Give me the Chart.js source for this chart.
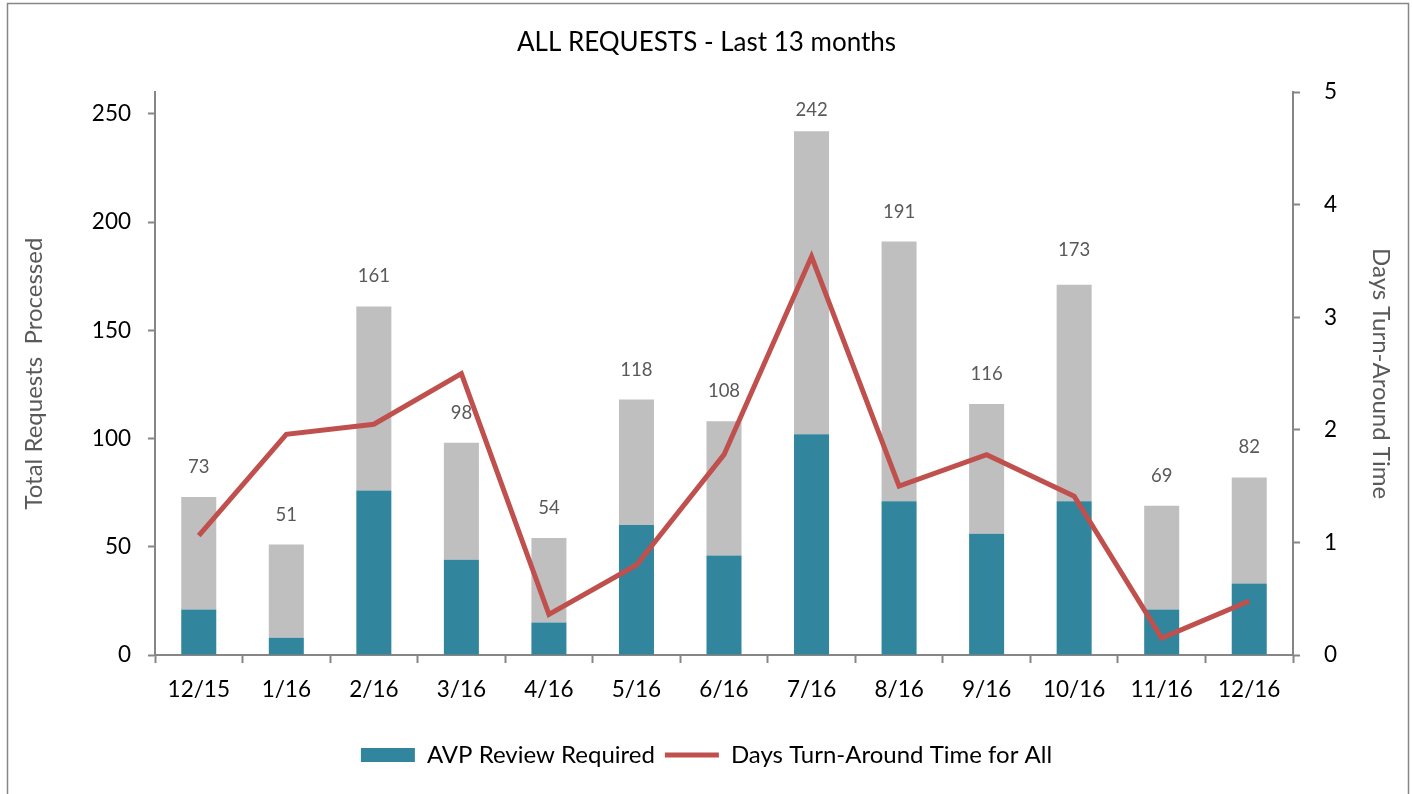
<!DOCTYPE html>
<html>
<head>
<meta charset="utf-8">
<title>ALL REQUESTS - Last 13 months</title>
<script src="https://cdn.jsdelivr.net/npm/chart.js@4.4.1/dist/chart.umd.min.js"></script>
<style>
    html, body { margin: 0; padding: 0; background: #fff; }
    #wrap { position: relative; width: 1413px; height: 794px; }
</style>
</head>
<body>
<div id="wrap"><canvas id="chart" width="1413" height="794"></canvas></div>
<script>
// Dữ liệu biểu đồ
const months = ['12/15', '1/16', '2/16', '3/16', '4/16', '5/16', '6/16', '7/16', '8/16', '9/16', '10/16', '11/16', '12/16'];
const avpReview = [21, 8, 76, 44, 15, 60, 46, 102, 71, 56, 71, 21, 33];
const otherRequests = [52, 43, 85, 54, 39, 58, 62, 140, 120, 60, 100, 48, 49];
const totalLabels = [73, 51, 161, 98, 54, 118, 108, 242, 191, 116, 173, 69, 82];
const turnAround = [1.06, 1.96, 2.05, 2.50, 0.36, 0.80, 1.78, 3.54, 1.50, 1.78, 1.41, 0.15, 0.48];
const leftTicks = [0, 50, 100, 150, 200, 250];
const rightTicks = [0, 1, 2, 3, 4, 5];

const FONT = "Lato, 'Open Sans', sans-serif";
const AXIS_GRAY = '#868686';

// Khung ngoài của biểu đồ
const framePlugin = {
    id: 'frame',
    beforeDraw(chart) {
        const c = chart.ctx;
        c.save();
        c.strokeStyle = AXIS_GRAY;
        c.lineWidth = 1.5;
        c.strokeRect(7.5, 3.5, 1401, 800);
        c.restore();
    }
};

// Nhãn tổng trên mỗi cột
const totalsPlugin = {
    id: 'totals',
    afterDatasetsDraw(chart) {
        const c = chart.ctx;
        const meta = chart.getDatasetMeta(1);
        const yScale = chart.scales.y;
        c.save();
        c.font = '18.5px ' + FONT;
        c.fillStyle = '#595959';
        c.textAlign = 'center';
        c.textBaseline = 'middle';
        meta.data.forEach((bar, i) => {
            let y = yScale.getPixelForValue(totalLabels[i]) - 30;
            y = Math.max(y, chart.chartArea.top + 18);
            c.fillText(totalLabels[i], bar.x, y);
        });
        c.restore();
    }
};

const ctx = document.getElementById('chart').getContext('2d');
const chart = new Chart(ctx, {
    type: 'bar',
    data: {
        labels: months,
        datasets: [{
            label: 'AVP Review Required',
            data: avpReview,
            backgroundColor: '#31859C',
            borderColor: '#31859C',
            borderWidth: 0,
            pointStyle: 'rect',
            stack: 'req',
            order: 1
        }, {
            label: 'Total',
            data: otherRequests,
            backgroundColor: '#BFBFBF',
            borderColor: '#BFBFBF',
            borderWidth: 0,
            stack: 'req',
            order: 1
        }, {
            type: 'line',
            label: 'Days Turn-Around Time for All',
            data: turnAround,
            yAxisID: 'y1',
            borderColor: '#C0504D',
            backgroundColor: '#C0504D',
            borderWidth: 5,
            pointRadius: 0,
            pointStyle: 'line',
            tension: 0,
            order: 0
        }]
    },
    options: {
        responsive: false,
        animation: false,
        layout: { padding: { left: 0, right: 0, top: 0, bottom: 17 } },
        datasets: {
            bar: { categoryPercentage: 1, barPercentage: 0.4 }
        },
        plugins: {
            tooltip: { enabled: false },
            title: {
                display: true,
                text: 'ALL REQUESTS - Last 13 months',
                color: '#000',
                font: { family: FONT, size: 26, weight: 'normal', lineHeight: 1.2 },
                padding: { top: 27, bottom: 34 }
            },
            legend: {
                position: 'bottom',
                labels: {
                    color: '#000',
                    font: { family: FONT, size: 24 },
                    usePointStyle: true,
                    pointStyleWidth: 54,
                    boxHeight: 14,
                    padding: 10,
                    filter: (item) => item.datasetIndex !== 1,
                    sort: (a, b) => a.datasetIndex - b.datasetIndex
                }
            }
        },
        scales: {
            x: {
                stacked: true,
                offset: true,
                afterFit: (scale) => { scale.height = 78; },
                border: { display: true, color: AXIS_GRAY, width: 2 },
                grid: {
                    offset: true,
                    drawOnChartArea: false,
                    drawTicks: true,
                    tickLength: 8,
                    tickColor: AXIS_GRAY,
                    tickWidth: 2
                },
                ticks: {
                    color: '#000',
                    font: { family: FONT, size: 22.5 },
                    padding: 13,
                    maxRotation: 0
                }
            },
            y: {
                stacked: true,
                position: 'left',
                min: 0,
                max: 260,
                afterFit: (scale) => { scale.width = 155; },
                afterBuildTicks: (scale) => { scale.ticks = leftTicks.map(v => ({ value: v })); },
                border: { display: true, color: AXIS_GRAY, width: 2 },
                grid: {
                    drawOnChartArea: false,
                    drawTicks: true,
                    tickLength: 7,
                    tickColor: AXIS_GRAY,
                    tickWidth: 2
                },
                ticks: {
                    color: '#000',
                    font: { family: FONT, size: 22.5 },
                    padding: 17
                },
                title: {
                    display: true,
                    text: 'Total Requests  Processed',
                    color: '#595959',
                    font: { family: FONT, size: 24 },
                    padding: { top: 20, bottom: 0 }
                }
            },
            y1: {
                position: 'right',
                min: 0,
                max: 5,
                afterFit: (scale) => { scale.width = 120; },
                afterBuildTicks: (scale) => { scale.ticks = rightTicks.map(v => ({ value: v })); },
                border: { display: true, color: AXIS_GRAY, width: 2 },
                grid: {
                    drawOnChartArea: false,
                    drawTicks: true,
                    tickLength: 7,
                    tickColor: AXIS_GRAY,
                    tickWidth: 2
                },
                ticks: {
                    color: '#000',
                    font: { family: FONT, size: 22.5 },
                    padding: 24
                },
                title: {
                    display: true,
                    text: 'Days Turn-Around Time',
                    color: '#595959',
                    font: { family: FONT, size: 24 },
                    padding: { top: 18, bottom: 0 }
                }
            }
        }
    },
    plugins: [framePlugin, totalsPlugin]
});
</script>
</body>
</html>
